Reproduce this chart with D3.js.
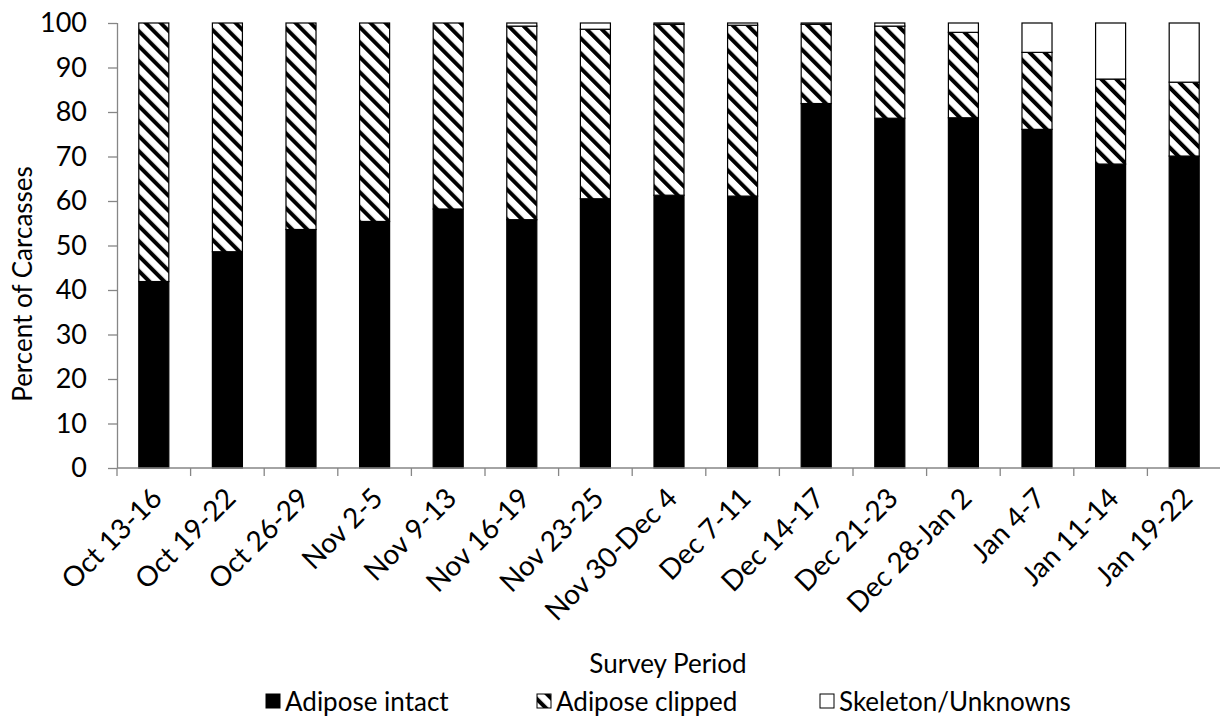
<!DOCTYPE html>
<html>
<head>
<meta charset="utf-8">
<script src="https://cdn.jsdelivr.net/npm/d3@7"></script>
<style>
  html, body { margin: 0; padding: 0; background: #fff; }
  svg { display: block; }
  text { font-family: Lato, "Open Sans", sans-serif; fill: #000; }
</style>
</head>
<body>
<svg id="chart" width="1220" height="723"></svg>
<script>
// Survey periods (x categories)
const periods = ["Oct 13-16", "Oct 19-22", "Oct 26-29", "Nov 2-5", "Nov 9-13", "Nov 16-19",
  "Nov 23-25", "Nov 30-Dec 4", "Dec 7-11", "Dec 14-17", "Dec 21-23", "Dec 28-Jan 2",
  "Jan 4-7", "Jan 11-14", "Jan 19-22"];

// Percent of carcasses per category
const adiposeIntact  = [41.9, 48.6, 53.6, 55.4, 58.2, 55.8, 60.5, 61.3, 61.1, 81.9, 78.6, 78.7, 76.1, 68.3, 70.1];
const adiposeClipped = [58.1, 51.4, 46.4, 44.6, 41.8, 43.5, 38.1, 38.4, 38.4, 17.8, 20.7, 19.2, 17.3, 19.1, 16.6];
const skeletonUnknown = [0, 0, 0, 0, 0, 0.7, 1.4, 0.3, 0.5, 0.3, 0.7, 2.1, 6.6, 12.6, 13.3];

const seriesNames = ["Adipose intact", "Adipose clipped", "Skeleton/Unknowns"];
const yTicks = [0, 10, 20, 30, 40, 50, 60, 70, 80, 90, 100];

const svg = d3.select("#chart");
const margin = { left: 117, right: 1221, top: 23, bottom: 468 };
const axisColor = "#868686";
const tickFont = 27;
const labelFont = 28;
const titleFont = 26;

// diagonal hatch fill
const defs = svg.append("defs");
const pat = defs.append("pattern")
  .attr("id", "hatch")
  .attr("patternUnits", "userSpaceOnUse")
  .attr("width", 10.6).attr("height", 10.6)
  .attr("patternTransform", "rotate(-45)");
pat.append("rect").attr("width", 10.6).attr("height", 10.6).attr("fill", "#fff");
pat.append("rect").attr("x", 0).attr("y", 0).attr("width", 4).attr("height", 10.6).attr("fill", "#000");

const fills = ["#000", "url(#hatch)", "#fff"];

const x = d3.scaleBand()
  .domain(periods)
  .range([margin.left, margin.right])
  .paddingInner(0.592)
  .paddingOuter(0.296);

const y = d3.scaleLinear().domain([0, 100]).range([margin.bottom, margin.top]);

// stack the three series
const rows = periods.map((p, i) => ({
  period: p,
  [seriesNames[0]]: adiposeIntact[i],
  [seriesNames[1]]: adiposeClipped[i],
  [seriesNames[2]]: skeletonUnknown[i]
}));
const stacked = d3.stack().keys(seriesNames)(rows);

const gBars = svg.append("g");
stacked.forEach((layer, si) => {
  gBars.append("g")
    .selectAll("rect")
    .data(layer.filter(d => d[1] - d[0] > 0))
    .join("rect")
    .attr("x", d => x(d.data.period))
    .attr("width", x.bandwidth())
    .attr("y", d => y(d[1]))
    .attr("height", d => y(d[0]) - y(d[1]))
    .attr("fill", fills[si])
    .attr("stroke", "#000")
    .attr("stroke-width", 1.2);
});

// y axis
const yAxis = svg.append("g")
  .attr("transform", `translate(${margin.left},0)`)
  .call(d3.axisLeft(y).tickValues(yTicks).tickSize(9).tickPadding(21));
yAxis.selectAll("path, line").attr("stroke", axisColor).attr("stroke-width", 1.3);
yAxis.select(".domain").attr("d", `M0.5,${margin.bottom}V${margin.top}`);
yAxis.selectAll("text").style("font-size", tickFont + "px").style("font-family", "Lato");

// x axis: ticks on category boundaries
const step = x.step();
const boundaries = d3.range(periods.length + 1).map(i => margin.left + i * step);
const gx = svg.append("g");
gx.append("line")
  .attr("x1", margin.left).attr("x2", margin.right)
  .attr("y1", margin.bottom).attr("y2", margin.bottom)
  .attr("stroke", axisColor).attr("stroke-width", 1.3);
gx.selectAll("line.tick")
  .data(boundaries)
  .join("line")
  .attr("class", "tick")
  .attr("x1", d => d).attr("x2", d => d)
  .attr("y1", margin.bottom).attr("y2", margin.bottom + 8)
  .attr("stroke", axisColor).attr("stroke-width", 1.3);

gx.selectAll("text")
  .data(periods)
  .join("text")
  .attr("text-anchor", "end")
  .attr("transform", d => `translate(${x(d) + x.bandwidth() / 2 + 10},${margin.bottom + 32}) rotate(-45)`)
  .style("font-size", labelFont + "px")
  .text(d => d);

// axis titles
svg.append("text")
  .attr("x", 668).attr("y", 673)
  .attr("text-anchor", "middle")
  .style("font-size", titleFont + "px")
  .text("Survey Period");

svg.append("text")
  .attr("transform", "translate(32,284) rotate(-90)")
  .attr("text-anchor", "middle")
  .style("font-size", titleFont + "px")
  .text("Percent of Carcasses");

// legend
const legendX = [266, 537, 820];
const legend = svg.append("g");
seriesNames.forEach((name, i) => {
  legend.append("rect")
    .attr("x", legendX[i]).attr("y", 694)
    .attr("width", 14).attr("height", 14)
    .attr("fill", fills[i])
    .attr("stroke", "#000").attr("stroke-width", 1);
  legend.append("text")
    .attr("x", legendX[i] + 19).attr("y", 711)
    .style("font-size", titleFont + "px")
    .text(name);
});
</script>
</body>
</html>
